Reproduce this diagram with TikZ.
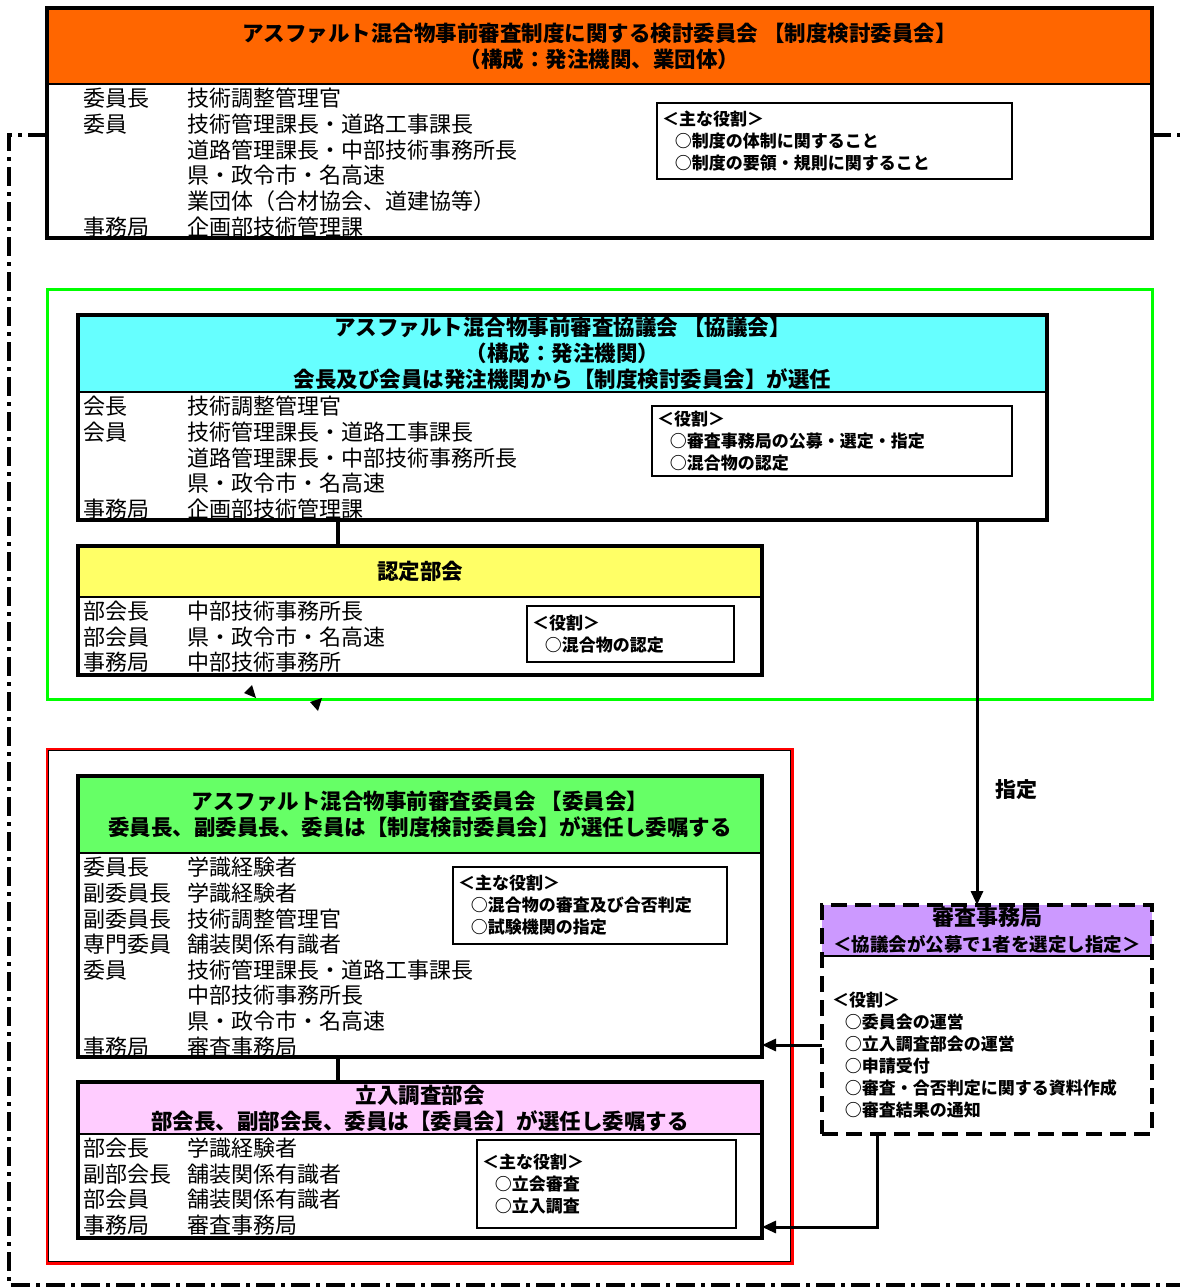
\documentclass[tikz,border=0pt]{standalone}
\usepackage{fontspec}
\setmainfont{Noto Sans CJK JP}
\usepackage{array}
\usetikzlibrary{arrows.meta}
\definecolor{seidoC}{HTML}{FF6600}
\definecolor{kyogiC}{HTML}{66FFFF}
\definecolor{ninteiC}{HTML}{FFFF66}
\definecolor{iinC}{HTML}{66FF66}
\definecolor{tachiC}{HTML}{FFCCFF}
\definecolor{jimuC}{HTML}{CC99FF}
\definecolor{zoneG}{HTML}{00FF00}
\definecolor{zoneR}{HTML}{FF0000}
\tikzstyle{head} = [draw, line width=2pt, anchor=north west, outer sep=0pt, inner sep=0pt, align=center, font=\bfseries\fontsize{21.5}{26}\selectfont]
\tikzstyle{body} = [draw, line width=4pt, anchor=north west, outer sep=0pt, inner sep=0pt]
\tikzstyle{role} = [draw, line width=1.5pt, anchor=north west, outer sep=0pt, inner xsep=5pt, inner ysep=0pt, align=left, font=\bfseries\fontsize{17}{22}\selectfont]
\tikzstyle{list} = [anchor=north west, inner sep=0pt, font=\fontsize{22}{23.6}\selectfont]
\tikzstyle{zone} = [draw, line width=3pt, anchor=north west, outer sep=0pt, inner sep=0pt]
\tikzstyle{link} = [line width=4pt]
\tikzstyle{reg} = [-{Triangle[length=14pt,width=12pt]}, line width=3pt]
\tikzstyle{dashdot} = [line width=3.5pt, dash pattern=on 19pt off 6pt on 4pt off 6pt]

\begin{document}
\begin{tikzpicture}[x=1pt, y=-1pt]
  \useasboundingbox (0,0) rectangle (1180,1287);

  % 制度検討委員会
  \node[head, fill=seidoC, minimum width=1105, minimum height=76] (seidoHead) at (47,8)
    {アスファルト混合物事前審査制度に関する検討委員会\ 【制度検討委員会】\\（構成：発注機関、業団体）};
  \node[body, minimum width=1105, minimum height=230] (seidoBody) at (47,8) {};
  \node[list] (seidoList) at (83,88) {\begin{tabular}{@{}p{104pt}@{}l@{}}
    委員長 & 技術調整管理官\\
    委員 & 技術管理課長・道路工事課長\\
     & 道路管理課長・中部技術事務所長\\
     & 県・政令市・名高速\\
     & 業団体（合材協会、道建協等）\\
    事務局 & 企画部技術管理課
  \end{tabular}};
  \node[role, text width=345, minimum height=76] (seidoRole) at (657,103)
    {＜主な役割＞\\\hspace*{0.75em}○制度の体制に関すること\\\hspace*{0.75em}○制度の要領・規則に関すること};

  % 協議会
  \node[zone, draw=zoneG, minimum width=1105, minimum height=410] (kyogiZone) at (47,289) {};
  \node[head, fill=kyogiC, minimum width=969, minimum height=77] (kyogiHead) at (78,315)
    {アスファルト混合物事前審査協議会\ 【協議会】\\（構成：発注機関）\\会長及び会員は発注機関から【制度検討委員会】が選任};
  \node[body, minimum width=969, minimum height=205] (kyogiBody) at (78,315) {};
  \node[list] (kyogiList) at (83,396) {\begin{tabular}{@{}p{104pt}@{}l@{}}
    会長 & 技術調整管理官\\
    会員 & 技術管理課長・道路工事課長\\
     & 道路管理課長・中部技術事務所長\\
     & 県・政令市・名高速\\
    事務局 & 企画部技術管理課
  \end{tabular}};
  \node[role, text width=350, minimum height=70] (kyogiRole) at (652,406)
    {＜役割＞\\\hspace*{0.75em}○審査事務局の公募・選定・指定\\\hspace*{0.75em}○混合物の認定};

  % 認定部会
  \node[head, fill=ninteiC, minimum width=684, minimum height=51] (ninteiHead) at (78,546) {認定部会};
  \node[body, minimum width=684, minimum height=129] (ninteiBody) at (78,546) {};
  \node[list] (ninteiList) at (83,601) {\begin{tabular}{@{}p{104pt}@{}l@{}}
    部会長 & 中部技術事務所長\\
    部会員 & 県・政令市・名高速\\
    事務局 & 中部技術事務所
  \end{tabular}};
  \node[role, text width=197, minimum height=56] (ninteiRole) at (527,606)
    {＜役割＞\\\hspace*{0.75em}○混合物の認定};

  % 委員会
  \node[zone, draw=zoneR, minimum width=745, minimum height=514] (iinZone) at (47,749) {};
  \draw[line width=1pt] ([xshift=1.5pt, yshift=-1.5pt]iinZone.north west) rectangle ([xshift=-1.5pt, yshift=1.5pt]iinZone.south east);
  \node[head, fill=iinC, minimum width=684, minimum height=77] (iinHead) at (78,776)
    {アスファルト混合物事前審査委員会\ 【委員会】\\委員長、副委員長、委員は【制度検討委員会】が選任し委嘱する};
  \node[body, minimum width=684, minimum height=281] (iinBody) at (78,776) {};
  \node[list] (iinList) at (83,857) {\begin{tabular}{@{}p{104pt}@{}l@{}}
    委員長 & 学識経験者\\
    副委員長 & 学識経験者\\
    副委員長 & 技術調整管理官\\
    専門委員 & 舗装関係有識者\\
    委員 & 技術管理課長・道路工事課長\\
     & 中部技術事務所長\\
     & 県・政令市・名高速\\
    事務局 & 審査事務局
  \end{tabular}};
  \node[role, text width=264, minimum height=77] (iinRole) at (453,867)
    {＜主な役割＞\\\hspace*{0.75em}○混合物の審査及び合否判定\\\hspace*{0.75em}○試験機関の指定};

  % 立入調査部会
  \node[head, fill=tachiC, minimum width=684, minimum height=52] (tachiHead) at (78,1082)
    {立入調査部会\\部会長、副部会長、委員は【委員会】が選任し委嘱する};
  \node[body, minimum width=684, minimum height=156] (tachiBody) at (78,1082) {};
  \node[list] (tachiList) at (83,1138) {\begin{tabular}{@{}p{104pt}@{}l@{}}
    部会長 & 学識経験者\\
    副部会長 & 舗装関係有識者\\
    部会員 & 舗装関係有識者\\
    事務局 & 審査事務局
  \end{tabular}};
  \node[role, text width=249, minimum height=88] (tachiRole) at (477,1140)
    {＜主な役割＞\\\hspace*{0.75em}○立会審査\\\hspace*{0.75em}○立入調査};

  % 審査事務局
  \node[head, draw=none, fill=jimuC, minimum width=330, minimum height=51] (jimuHead) at (822,905)
    {{\fontsize{22}{26}\selectfont 審査事務局}\\{\fontsize{18.5}{26}\selectfont ＜協議会が公募で1者を選定し指定＞}};
  \draw[line width=2pt] (jimuHead.south west) -- (jimuHead.south east);
  \node[body, line width=3.5pt, dash pattern=on 16pt off 8pt, minimum width=330, minimum height=229] (jimuBody) at (822,905) {};
  \node[anchor=north west, inner sep=0pt, align=left, font=\bfseries\fontsize{17}{22}\selectfont] (jimuRole) at (832,992)
    {＜役割＞\\\hspace*{0.75em}○委員会の運営\\\hspace*{0.75em}○立入調査部会の運営\\\hspace*{0.75em}○申請受付\\\hspace*{0.75em}○審査・合否判定に関する資料作成\\\hspace*{0.75em}○審査結果の通知};

  % 枠線（一点鎖線）
  \coordinate (ddTop) at (0,135);
  \coordinate (ddCorner) at (9,1285);
  \coordinate (ddEnd) at (1180,1285);
  \coordinate (ddRight) at (1180,135);
  \draw[dashdot] (seidoBody.west |- ddTop) -| (ddCorner) -- (ddEnd);
  \draw[dashdot] (seidoBody.east |- ddTop) -- (ddRight);

  % 接続線
  \coordinate (subX) at (338,0);
  \draw[link] (kyogiBody.south -| subX) -- (ninteiHead.north -| subX);
  \draw[link] (iinBody.south -| subX) -- (tachiHead.north -| subX);

  % 矢印
  \coordinate (shiteiX) at (977,0);
  \draw[reg] (kyogiBody.south -| shiteiX) -- (jimuHead.north -| shiteiX)
    node[pos=0.7, right=14pt, font=\bfseries\fontsize{21}{26}\selectfont] (shitei) {指定};
  \coordinate (unY) at (0,1045);
  \draw[reg] (jimuBody.west |- unY) -- (iinBody.east |- unY);
  \coordinate (tachiY) at (877,1227);
  \draw[reg] (jimuBody.south -| tachiY) |- (tachiBody.east |- tachiY);

  % 矢じり
  \fill (244,693) -- (252,685) -- (256,698) -- cycle;
  \fill (310,702) -- (322,698) -- (318,711) -- cycle;
\end{tikzpicture}
\end{document}
